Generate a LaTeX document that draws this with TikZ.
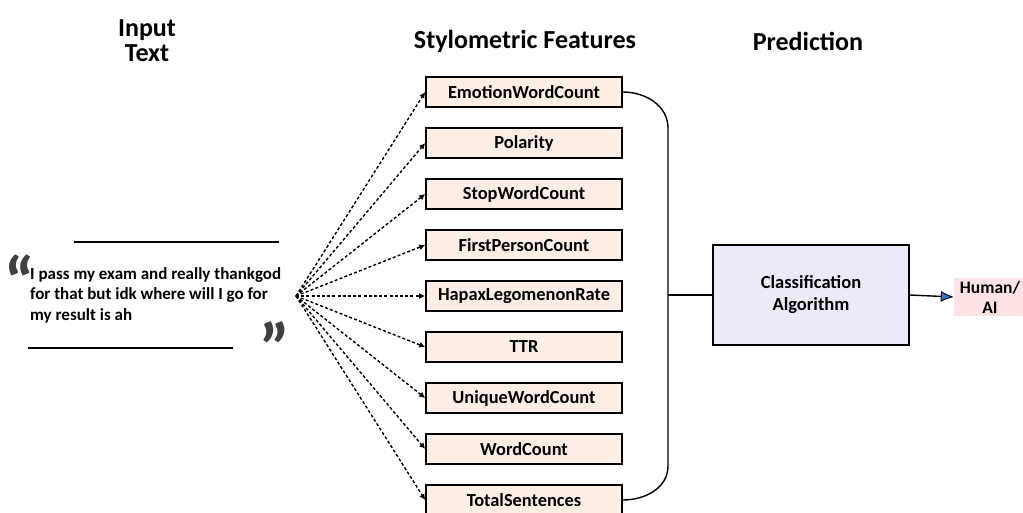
\documentclass[tikz,border=0pt]{standalone}
\usepackage{fontspec}
\setmainfont{Carlito}
\usetikzlibrary{positioning,arrows.meta}

\definecolor{featfill}{HTML}{FCEEE4}
\definecolor{algfill}{HTML}{ECEAF8}
\definecolor{outfill}{HTML}{FDE3E3}
\definecolor{quotegray}{HTML}{404040}
\definecolor{tipblue}{HTML}{3A6FC4}

\tikzset{
    feature/.style={draw, line width=1.6pt, fill=featfill, minimum width=196pt,
        minimum height=30pt, inner sep=0pt,
        font=\fontsize{18.4}{20}\selectfont\bfseries},
    heading/.style={align=center, font=\fontsize{26}{25}\selectfont\bfseries},
    feed/.style={densely dashed, dash pattern=on 3pt off 2.2pt, line width=1.4pt,
        -{Latex[length=6pt,width=6pt]}},
}

\begin{document}
\begin{tikzpicture}[x=1pt, y=-1pt, node distance=51pt]
    \useasboundingbox (0,0) rectangle (1023,512);

    % headings
    \node[heading] (hin) at (147,41) {Input\\Text};
    \node[heading] (hfeat) at (525,41) {Stylometric Features};
    \node[heading] (hpred) at (808,41) {Prediction};

    % input text
    \draw[line width=2.2pt] (74,242) -- (279,242);
    \draw[line width=2.2pt] (28,348) -- (233,348);
    \node[text=quotegray, font=\fontsize{70}{70}\selectfont\bfseries] (qopen) at (20,281) {``};
    \node[text=quotegray, font=\fontsize{70}{70}\selectfont\bfseries] (qclose) at (275,347) {''};
    \node[anchor=north west, align=left, inner sep=0pt,
        font=\fontsize{17}{20.5}\selectfont\bfseries] (quote) at (30,267)
        {I pass my exam and really thankgod\\for that but idk where will I go for\\my result is ah};
    \coordinate (src) at (296,296);

    % features
    \node[feature] (emo) at (524,92) {EmotionWordCount};
    \node[feature, below of=emo] (pol) {Polarity};
    \node[feature, below of=pol] (stop) {StopWordCount};
    \node[feature, below of=stop] (first) {FirstPersonCount};
    \node[feature, below of=first] (hapax) {HapaxLegomenonRate};
    \node[feature, below of=hapax] (ttr) {TTR};
    \node[feature, below of=ttr] (uniq) {UniqueWordCount};
    \node[feature, below of=uniq] (wc) {WordCount};
    \node[feature, below of=wc] (total) {TotalSentences};

    \draw[feed] (src) -- (emo.west);
    \draw[feed] (src) -- (pol.west);
    \draw[feed] (src) -- (stop.west);
    \draw[feed] (src) -- (first.west);
    \draw[feed] (src) -- (hapax.west);
    \draw[feed] (src) -- (ttr.west);
    \draw[feed] (src) -- (uniq.west);
    \draw[feed] (src) -- (wc.west);
    \draw[feed] (src) -- (total.west);

    % prediction
    \node[draw, line width=1.8pt, fill=algfill, minimum width=196pt, minimum height=100pt,
        align=center, font=\fontsize{18.5}{22}\selectfont\bfseries] (alg) at (811,295)
        {Classification\\Algorithm};
    \node[fill=outfill, minimum width=72pt, minimum height=38pt, inner sep=0pt,
        align=center, font=\fontsize{17.5}{20}\selectfont\bfseries] (out) at (990,297)
        {Human/\\AI};

    \coordinate (btop) at (668,128);
    \coordinate (bbot) at (668,466);
    \draw[line width=1.4pt] (emo.east) to[out=0, in=90] (btop) -- (bbot)
        to[out=-90, in=0] (total.east);
    \draw[line width=1.4pt] (alg.west -| btop) -- (alg.west);
    \draw[line width=1.4pt, -{Latex[length=13pt,width=11pt,line width=0.9pt,fill=tipblue]}]
        (alg.east) -- (out.west);
\end{tikzpicture}
\end{document}
